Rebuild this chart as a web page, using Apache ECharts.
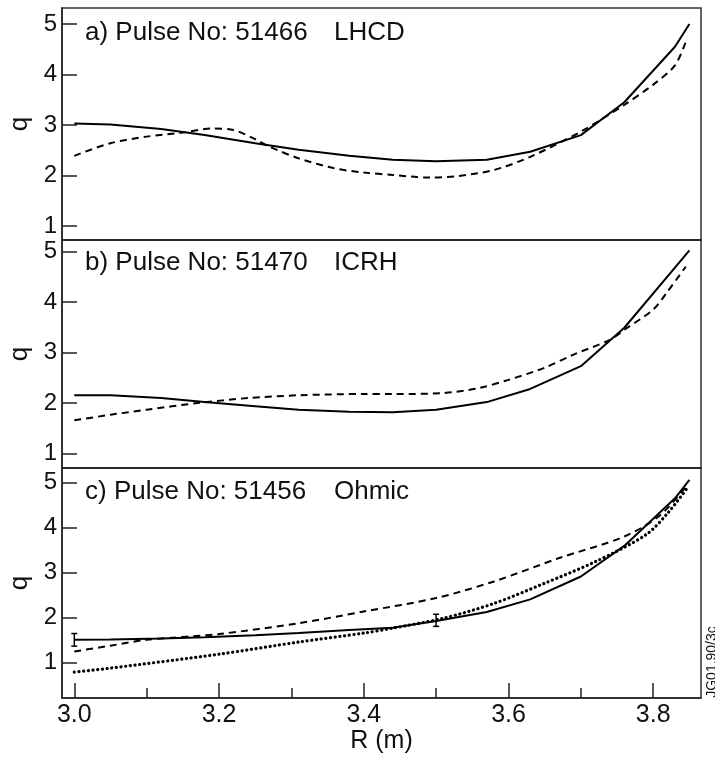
<!DOCTYPE html>
<html>
<head>
<meta charset="utf-8">
<script src="https://cdn.jsdelivr.net/npm/echarts@6/dist/echarts.min.js"></script>
<style>
  html, body { margin: 0; padding: 0; background: #fff; }
  #main { width: 715px; height: 757px; }
</style>
</head>
<body>
<div id="main"></div>
<script>
// tick labels
const xMajor = [3.0, 3.2, 3.4, 3.6, 3.8];
const xMinor = [3.1, 3.3, 3.5, 3.7];
const qTicks = [1, 2, 3, 4, 5];

const panelTags = ['a) Pulse No: 51466', 'b) Pulse No: 51470', 'c) Pulse No: 51456'];
const heating = ['LHCD', 'ICRH', 'Ohmic'];

// solid curves share the same radii
const solidR = [3.0, 3.05, 3.12, 3.18, 3.25, 3.31, 3.38, 3.44, 3.5, 3.57, 3.63, 3.7, 3.76, 3.83, 3.85];

// a) LHCD
const aSolid = [3.03, 3.01, 2.92, 2.80, 2.64, 2.51, 2.39, 2.31, 2.28, 2.31, 2.47, 2.80, 3.45, 4.55, 5.0];
const aDashR = [3.0, 3.05, 3.1, 3.15, 3.19, 3.22, 3.25, 3.27, 3.31, 3.36, 3.4, 3.44, 3.49, 3.53, 3.58, 3.63, 3.7, 3.76, 3.8, 3.83, 3.845];
const aDash = [2.39, 2.64, 2.77, 2.85, 2.93, 2.90, 2.72, 2.57, 2.34, 2.14, 2.06, 2.01, 1.96, 1.99, 2.11, 2.37, 2.87, 3.40, 3.80, 4.18, 4.65];

// b) ICRH
const bSolid = [2.155, 2.155, 2.10, 2.02, 1.94, 1.87, 1.83, 1.82, 1.87, 2.02, 2.28, 2.73, 3.49, 4.68, 5.02];
const bDashR = [3.0, 3.05, 3.1, 3.17, 3.24, 3.31, 3.4, 3.44, 3.51, 3.56, 3.6, 3.65, 3.69, 3.74, 3.76, 3.8, 3.82, 3.845];
const bDash = [1.66, 1.77, 1.87, 2.00, 2.10, 2.155, 2.18, 2.18, 2.20, 2.30, 2.46, 2.70, 2.96, 3.25, 3.45, 3.85, 4.21, 4.70];

// c) Ohmic
const cSolid = [1.50, 1.51, 1.53, 1.56, 1.60, 1.65, 1.72, 1.77, 1.92, 2.12, 2.40, 2.91, 3.59, 4.65, 5.06];
const cDashR = [3.0, 3.05, 3.1, 3.2, 3.31, 3.4, 3.5, 3.58, 3.67, 3.76, 3.81, 3.847];
const cDash = [1.24, 1.37, 1.50, 1.63, 1.87, 2.13, 2.43, 2.80, 3.32, 3.80, 4.28, 4.95];
const cDotR = [3.0, 3.05, 3.2, 3.31, 3.4, 3.44, 3.51, 3.58, 3.65, 3.72, 3.79, 3.82, 3.847];
const cDot = [0.78, 0.87, 1.18, 1.45, 1.65, 1.76, 1.98, 2.31, 2.76, 3.24, 3.84, 4.32, 4.88];

// error bars (panel c)
const errR = [3.0, 3.5];
const errLo = [1.36, 1.80];
const errHi = [1.64, 2.07];

const font = 'Liberation Sans, Arial, Helvetica, sans-serif';
const pairs = (xs, ys) => xs.map((x, i) => [x, ys[i]]);

let chart = echarts.init(document.getElementById('main'));

const grids = [
    { left: 62, right: 14, top: 8, height: 232 },
    { left: 62, right: 14, top: 240, height: 228 },
    { left: 62, right: 14, top: 468, height: 230 }
];
const yRanges = [[0.723, 5.317], [0.717, 5.225], [0.205, 5.325]];

let xAxes = grids.map((g, i) => ({
    type: 'value',
    gridIndex: i,
    min: 2.983,
    max: 3.866,
    position: 'bottom',
    splitLine: { show: false },
    axisLine: { show: true, lineStyle: { color: '#222', width: 1.5 } },
    axisTick: {
        show: i === 2,
        inside: true,
        length: 15,
        customValues: xMajor,
        lineStyle: { color: '#222', width: 1.5 }
    },
    axisLabel: {
        show: i === 2,
        customValues: xMajor,
        formatter: v => v.toFixed(1),
        color: '#111',
        fontSize: 25,
        fontFamily: font,
        margin: 5
    },
    name: i === 2 ? 'R (m)' : '',
    nameLocation: 'middle',
    nameGap: 29,
    nameTextStyle: { color: '#111', fontSize: 25, fontFamily: font }
}));
// minor ticks on the bottom axis
xAxes.push({
    type: 'value',
    gridIndex: 2,
    min: 2.983,
    max: 3.866,
    position: 'bottom',
    splitLine: { show: false },
    axisLine: { show: false },
    axisLabel: { show: false },
    axisTick: {
        show: true,
        inside: true,
        length: 10,
        customValues: xMinor,
        lineStyle: { color: '#222', width: 1.5 }
    }
});

const yAxes = grids.map((g, i) => ({
    type: 'value',
    gridIndex: i,
    min: yRanges[i][0],
    max: yRanges[i][1],
    splitLine: { show: false },
    axisLine: { show: true, lineStyle: { color: '#222', width: 1.5 } },
    axisTick: {
        inside: true,
        length: 15,
        customValues: qTicks,
        lineStyle: { color: '#222', width: 1.5 }
    },
    axisLabel: {
        customValues: qTicks,
        color: '#111',
        fontSize: 24,
        fontFamily: font,
        margin: 5
    },
    name: 'q',
    nameLocation: 'middle',
    nameGap: 29,
    nameRotate: 90,
    nameTextStyle: { color: '#111', fontSize: 26, fontFamily: font }
}));

function lineSeries(idx, data, kind) {
    let style = { color: '#000', width: 2 };
    if (kind === 'dash') style = { color: '#000', width: 2, type: [7, 5] };
    if (kind === 'dot') style = { color: '#000', width: 3.2, type: [0.1, 4.6], cap: 'round' };
    return {
        type: 'line',
        xAxisIndex: idx,
        yAxisIndex: idx,
        data: data,
        showSymbol: false,
        smooth: kind === 'solid' ? false : 0.3,
        lineStyle: style,
        z: kind === 'solid' ? 3 : 2,
        animation: false
    };
}

function renderErr(params, api) {
    let x = api.value(0);
    let top = api.coord([x, api.value(2)]);
    let bot = api.coord([x, api.value(1)]);
    let w = 3;
    let st = { stroke: '#000', lineWidth: 1.5 };
    return {
        type: 'group',
        children: [
            { type: 'line', shape: { x1: top[0], y1: top[1], x2: bot[0], y2: bot[1] }, style: st },
            { type: 'line', shape: { x1: top[0] - w, y1: top[1], x2: top[0] + w, y2: top[1] }, style: st },
            { type: 'line', shape: { x1: bot[0] - w, y1: bot[1], x2: bot[0] + w, y2: bot[1] }, style: st }
        ]
    };
}

const tagY = [33, 263, 492];
let graphics = [];
panelTags.forEach((t, i) => {
    graphics.push({
        type: 'text', x: 85, y: tagY[i],
        style: { text: t, fill: '#111', font: '26px ' + font, verticalAlign: 'middle' }
    });
    graphics.push({
        type: 'text', x: 334, y: tagY[i],
        style: { text: heating[i], fill: '#111', font: '26px ' + font, verticalAlign: 'middle' }
    });
});
graphics.push({
    type: 'text', x: 712, y: 662, rotation: Math.PI / 2,
    style: { text: 'JG01.90/3c', fill: '#111', font: '14px ' + font, align: 'center', verticalAlign: 'middle' }
});

let option = {
    backgroundColor: '#fff',
    animation: false,
    grid: grids.map(g => Object.assign({ show: true, borderColor: '#333', borderWidth: 1.5, outerBoundsMode: 'none' }, g)),
    xAxis: xAxes,
    yAxis: yAxes,
    graphic: graphics,
    series: [
        lineSeries(0, pairs(solidR, aSolid), 'solid'),
        lineSeries(0, pairs(aDashR, aDash), 'dash'),
        lineSeries(1, pairs(solidR, bSolid), 'solid'),
        lineSeries(1, pairs(bDashR, bDash), 'dash'),
        lineSeries(2, pairs(solidR, cSolid), 'solid'),
        lineSeries(2, pairs(cDashR, cDash), 'dash'),
        lineSeries(2, pairs(cDotR, cDot), 'dot'),
        {
            type: 'custom',
            xAxisIndex: 2,
            yAxisIndex: 2,
            renderItem: renderErr,
            data: errR.map((r, i) => [r, errLo[i], errHi[i]]),
            z: 4,
            animation: false
        }
    ]
};

chart.setOption(option);
window.onresize = function () {
    chart.resize();
};
</script>
</body>
</html>
